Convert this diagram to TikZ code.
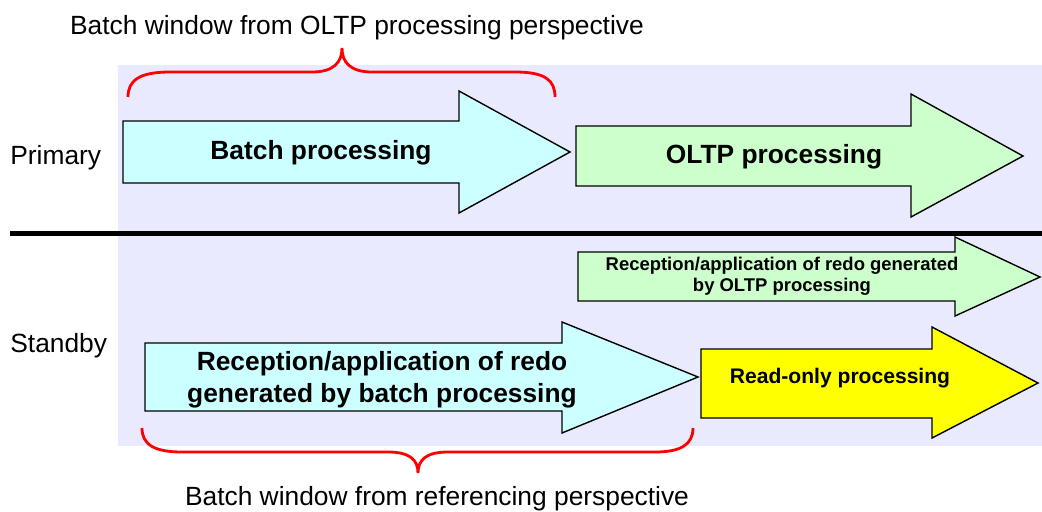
\documentclass[tikz,border=0pt]{standalone}
\usepackage{fontspec}
\setmainfont{Liberation Sans}
\usetikzlibrary{positioning,calc}
\definecolor{mylavender}{RGB}{234,234,255}
\definecolor{mycyan}{RGB}{204,255,255}
\definecolor{mygreen}{RGB}{204,255,204}
\definecolor{myyellow}{RGB}{255,255,0}
\definecolor{myred}{RGB}{255,0,0}

\begin{document}
\begin{tikzpicture}[x=0.02cm,y=-0.02cm,
  blockarrow/.style={draw=black,line width=0.8pt,line join=miter},
  brace/.style={draw=myred,line width=1.6pt},
  bigtext/.style={font=\bfseries\fontsize{15}{18}\selectfont,align=center,inner sep=0pt},
  smalltext/.style={font=\bfseries\fontsize{10.5}{12}\selectfont,align=center,inner sep=0pt},
  plaintext/.style={font=\fontsize{15}{18}\selectfont,inner sep=0pt}
]
\useasboundingbox (0,0) rectangle (1042,511);

% the background
\fill[mylavender] (118,65) rectangle (1042,446);

% the divider
\draw[line width=2.8pt] (10,233.5) -- (1042,233.5);

% the primary arrows
\draw[blockarrow,fill=mycyan] (123,121) -- (459,121) -- (459,91) -- (570,152)
  -- (459,213) -- (459,183) -- (123,183) -- cycle;
\draw[blockarrow,fill=mygreen] (576,126) -- (911,126) -- (911,94) -- (1023,156)
  -- (911,217) -- (911,186) -- (576,186) -- cycle;

% the standby arrows
\draw[blockarrow,fill=mygreen] (578,252) -- (955,252) -- (955,237) -- (1040,277)
  -- (955,316) -- (955,301) -- (578,301) -- cycle;
\draw[blockarrow,fill=mycyan] (145,343) -- (562,343) -- (562,322) -- (698,377)
  -- (562,433) -- (562,411) -- (145,411) -- cycle;
\draw[blockarrow,fill=myyellow] (701,349) -- (932,349) -- (932,327) -- (1038,383)
  -- (932,438) -- (932,418) -- (701,418) -- cycle;

% the arrow texts
\node[bigtext] (batch) at (321,153) {Batch processing};
\node[bigtext] (oltp) at (774,157) {OLTP processing};
\node[smalltext] (redooltp) at (782,276) {Reception/application of redo generated\\by OLTP processing};
\node[bigtext] (redobatch) at (382,380) {Reception/application of redo\\generated by batch processing};
\node[bigtext,font=\bfseries\fontsize{12}{14}\selectfont] (readonly) at (840,378) {Read-only processing};

% the sides
\node[plaintext,anchor=west] (primary) at (10,158) {Primary};
\node[plaintext,anchor=west] (standby) at (10,346) {Standby};

% the braces
\draw[brace] (128,97) .. controls (128,80) and (140,72) .. (170,72) -- (312,72)
  .. controls (334,72) and (342,62) .. (342,48) .. controls (342,62) and (350,72) .. (372,72)
  -- (515,72) .. controls (545,72) and (555,80) .. (555,97);
\draw[brace] (142,428) .. controls (142,445) and (155,452) .. (182,452) -- (388,452)
  .. controls (410,452) and (418,460) .. (418,473) .. controls (418,460) and (426,452) .. (448,452)
  -- (655,452) .. controls (680,452) and (693,445) .. (693,428);

% the windows
\node[plaintext] (topwin) at (357,28) {Batch window from OLTP processing perspective};
\node[plaintext] (botwin) at (437,499) {Batch window from referencing perspective};
\end{tikzpicture}
\end{document}
